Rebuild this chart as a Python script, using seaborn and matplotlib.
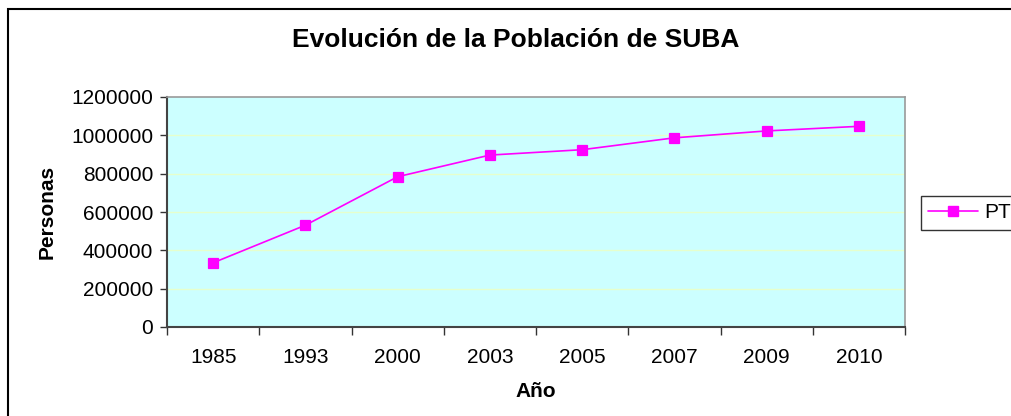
import matplotlib
matplotlib.use("Agg")
import matplotlib.pyplot as plt
from matplotlib.patches import Rectangle
from matplotlib.lines import Line2D
from matplotlib.ticker import FixedLocator
import seaborn as sns
import pandas as pd

# Population of Suba by year
years = ["1985", "1993", "2000", "2003", "2005", "2007", "2009", "2010"]
population = [335000, 531000, 784000, 897000, 925000, 987000, 1023000, 1047000]
series_name = "PT"
y_ticks = [0, 200000, 400000, 600000, 800000, 1000000, 1200000]

sns.set_theme(style="white")
plt.rcParams["font.family"] = ["Liberation Sans", "DejaVu Sans"]
plt.rcParams["text.color"] = "black"
plt.rcParams["axes.labelcolor"] = "black"
plt.rcParams["xtick.color"] = "black"
plt.rcParams["ytick.color"] = "black"

W, H = 1011, 416
fig = plt.figure(figsize=(W / 100, H / 100), dpi=100)
ax = fig.add_axes([167 / W, 1 - 327 / H, (905 - 167) / W, (327 - 97) / H])

ax.set_facecolor("#CCFFFF")
df = pd.DataFrame({"Año": years, "Personas": population})

for t in y_ticks[1:-1]:
    ax.axhline(t, color="#E6FFCC", lw=1.0, zorder=0.5)

sns.pointplot(data=df, x="Año", y="Personas", color="#FF00FF", markers="s",
              linestyles="-", markersize=7, linewidth=1.2, ax=ax,
              order=years, errorbar=None)

ax.set_xlim(-0.5, len(years) - 0.5)
ax.set_ylim(0, 1200000)
ax.set_yticks(y_ticks)
ax.set_yticklabels([str(v) for v in y_ticks], fontsize=15)
ax.set_xticks(range(len(years)))
ax.set_xticklabels(years, fontsize=15)
ax.xaxis.set_minor_locator(FixedLocator([i - 0.5 for i in range(len(years) + 1)]))
ax.tick_params(axis="x", which="major", length=0, pad=15, labelcolor="black")
ax.tick_params(axis="x", which="minor", length=6, width=1, color="#333333",
               direction="out", bottom=True)
ax.tick_params(axis="y", which="major", length=5, width=1, color="#333333",
               direction="out", left=True, pad=5, labelcolor="black")

for side in ["left", "bottom"]:
    ax.spines[side].set_color("#444444")
    ax.spines[side].set_linewidth(1.5)
for side in ["top", "right"]:
    ax.spines[side].set_color("#999999")
    ax.spines[side].set_linewidth(1.2)
    ax.spines[side].set_visible(True)

ax.set_xlabel("Año", fontsize=15, fontweight="bold", labelpad=11)
ax.set_ylabel("Personas", fontsize=15, fontweight="bold", labelpad=10)

fig.text(516 / W, 1 - 40 / H, "Evolución de la Población de SUBA",
         ha="center", va="center", fontsize=19, fontweight="bold")

handle = Line2D([], [], color="#FF00FF", lw=1.2, marker="s", markersize=7)
leg = fig.legend([handle], [series_name], loc="upper left",
                 bbox_to_anchor=(921 / W, 1 - 196 / H), fontsize=15,
                 frameon=True, fancybox=False, handlelength=2.4,
                 handletextpad=0.3, borderpad=0.35, borderaxespad=0)
leg.get_frame().set_edgecolor("black")
leg.get_frame().set_linewidth(1.0)

fig.patches.append(Rectangle((8 / W, -0.1), 1.2, 1 - 9 / H + 0.1,
                             transform=fig.transFigure, fill=False,
                             edgecolor="black", linewidth=1.5))

fig.savefig("out.png", dpi=100)
